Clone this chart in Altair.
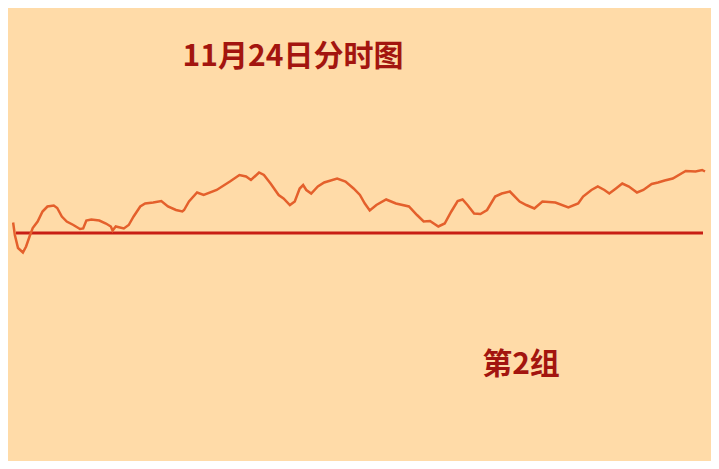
import pandas as pd
import altair as alt

# Intraday trace (minutes since open) and % change vs previous close
minutes = [0, 0.6, 1.7, 3.4, 4.5, 5.7, 6.8, 8.5, 10.2, 11.9, 14.1, 15.3, 16.9, 18.6,
           20.9, 23.2, 24.3, 25.4, 27.1, 29.9, 32.2, 33.9, 34.5, 35.6, 38.4, 40.1,
           41.8, 44.1, 45.8, 48.6, 51.4, 53.7, 56.5, 58.7, 59.3, 61.0, 63.8, 66.1,
           70.6, 75.2, 78.5, 80.8, 82.5, 85.3, 87.0, 89.3, 92.1, 93.8, 96.0, 97.7,
           99.4, 100.6, 101.7, 103.4, 105.7, 107.9, 112.4, 115.3, 118.1, 120.3,
           122.0, 123.7, 126.0, 129.4, 132.8, 137.3, 140.1, 142.4, 144.6, 147.5,
           149.7, 152.0, 154.2, 155.9, 157.6, 159.9, 162.1, 164.4, 167.2, 169.5,
           172.3, 175.7, 178.0, 180.8, 183.6, 188.1, 192.6, 196.0, 197.7, 200.6,
           202.8, 205.1, 206.8, 209.1, 211.3, 213.6, 216.4, 218.6, 221.5, 223.7,
           226.0, 228.8, 233.3, 236.7, 239.0, 240]
pct = [0.21, -0.04, -0.30, -0.39, -0.27, -0.07, 0.10, 0.23, 0.43, 0.53, 0.55, 0.50,
       0.33, 0.23, 0.16, 0.08, 0.09, 0.25, 0.27, 0.25, 0.19, 0.13, 0.05, 0.13, 0.09,
       0.16, 0.33, 0.53, 0.59, 0.61, 0.64, 0.53, 0.46, 0.43, 0.46, 0.63, 0.81, 0.76,
       0.86, 1.03, 1.16, 1.13, 1.06, 1.21, 1.16, 0.99, 0.76, 0.69, 0.56, 0.63, 0.89,
       0.96, 0.86, 0.79, 0.93, 1.01, 1.09, 1.03, 0.89, 0.76, 0.59, 0.45, 0.56, 0.67,
       0.59, 0.53, 0.36, 0.23, 0.24, 0.13, 0.19, 0.43, 0.64, 0.67, 0.56, 0.39, 0.38,
       0.46, 0.73, 0.79, 0.83, 0.63, 0.56, 0.49, 0.63, 0.61, 0.51, 0.59, 0.73, 0.86,
       0.93, 0.86, 0.79, 0.89, 0.99, 0.93, 0.81, 0.86, 0.98, 1.01, 1.05, 1.09, 1.24,
       1.23, 1.26, 1.23]

title_text = "11月24日分时图"
group_text = "第2组"

df = pd.DataFrame({"minute": minutes, "pct": pct})
base_df = pd.DataFrame({"pct": [0]})

x_scale = alt.Scale(domain=[1.0, 239.3], nice=False, zero=False)
y_scale = alt.Scale(domain=[-4.56, 4.5], nice=False, zero=False)

# price trace
price_line = alt.Chart(df).mark_line(color="#E4602C", strokeWidth=2.5).encode(
    x=alt.X("minute:Q", scale=x_scale, axis=None),
    y=alt.Y("pct:Q", scale=y_scale, axis=None),
)

# previous close line
base_rule = alt.Chart(base_df).mark_rule(color="#C81E14", strokeWidth=3).encode(
    y=alt.Y("pct:Q", scale=y_scale, axis=None),
)

title_mark = alt.Chart(pd.DataFrame({"t": [title_text]})).mark_text(
    font="Noto Sans CJK SC", fontSize=30, fontWeight="bold",
    color="#A3150F", align="center", baseline="middle"
).encode(x=alt.value(277), y=alt.value(49), text="t:N")

group_mark = alt.Chart(pd.DataFrame({"t": [group_text]})).mark_text(
    font="Noto Sans CJK SC", fontSize=30, fontWeight="bold",
    color="#A3150F", align="center", baseline="middle"
).encode(x=alt.value(505), y=alt.value(357), text="t:N")

chart = alt.layer(base_rule, price_line, title_mark, group_mark).properties(
    width=703,
    height=453,
    padding=0,
    background="#FFDBA8",
    autosize=alt.AutoSizeParams(type="fit", contains="padding"),
).configure_view(strokeWidth=0)

chart.save("out.html", embed_options={"renderer": "svg", "actions": False})
